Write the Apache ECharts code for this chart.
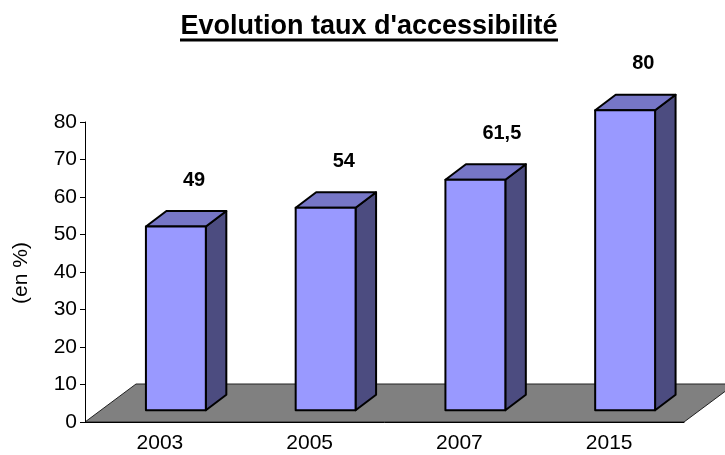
<!DOCTYPE html>
<html>
<head>
<meta charset="utf-8">
<script src="https://cdn.jsdelivr.net/npm/echarts@6/dist/echarts.min.js"></script>
<style>html,body{margin:0;padding:0;background:#fff}#c{width:725px;height:455px}</style>
</head>
<body>
<div id="c"></div>
<script>
const categories = ['2003', '2005', '2007', '2015'];
const values = [49, 54, 61.5, 80];
const yTicks = [0, 10, 20, 30, 40, 50, 60, 70, 80];
const titleText = "Evolution taux d'accessibilité";
const yName = '(en %)';

const FONT = 'Liberation Sans, Arial, sans-serif';
const FLOOR_DX = 51, FLOOR_DY = -38;
const BAR_SHIFT_X = 16, BAR_SHIFT_Y = -11.7;
const BAR_DX = 20.5, BAR_DY = -15.5;

const chart = echarts.init(document.getElementById('c'), null, {renderer: 'canvas'});

const option = {
  animation: false,
  backgroundColor: '#fff',
  grid: {left: 85, right: 41, top: 122, bottom: 33},
  graphic: [
    {type: 'text', x: 369, y: 40, style: {text: titleText, font: 'bold 27px ' + FONT, fill: '#000', textAlign: 'center', textVerticalAlign: 'bottom'}},
    {type: 'rect', shape: {x: 180, y: 38.5, width: 378, height: 3}, style: {fill: '#000'}},
    {type: 'text', x: 21, y: 273, rotation: Math.PI / 2, style: {text: yName, font: '21px ' + FONT, fill: '#000', textAlign: 'center', textVerticalAlign: 'middle'}}
  ],
  xAxis: {
    type: 'category', data: categories, z: 10,
    axisLine: {lineStyle: {color: '#000', width: 1}},
    axisTick: {length: 6, lineStyle: {color: '#000'}},
    axisLabel: {color: '#000', fontSize: 21, fontFamily: FONT, margin: 11}
  },
  yAxis: {
    type: 'value', min: yTicks[0], max: yTicks[yTicks.length - 1], interval: yTicks[1] - yTicks[0], z: 10,
    axisLine: {show: true, lineStyle: {color: '#000', width: 1}},
    axisTick: {show: true, length: 5, lineStyle: {color: '#000'}},
    axisLabel: {color: '#000', fontSize: 21, fontFamily: FONT, margin: 8},
    splitLine: {show: false}
  },
  series: [
    {
      type: 'custom', z: 1, silent: true,
      data: [[0, 0]],
      renderItem: function (params, api) {
        const cs = params.coordSys;
        const y0 = api.coord([0, 0])[1];
        const xl = cs.x, xr = cs.x + cs.width;
        return {
          type: 'polygon',
          shape: {points: [[xl, y0], [xr, y0], [xr + FLOOR_DX, y0 + FLOOR_DY], [xl + FLOOR_DX, y0 + FLOOR_DY]]},
          style: {fill: '#808080', stroke: '#222', lineWidth: 1}
        };
      }
    },
    {
      type: 'custom', z: 3, silent: true,
      data: categories.map((c, i) => [i, values[i]]),
      renderItem: function (params, api) {
        const v = api.value(1);
        const top = api.coord([api.value(0), v]);
        const base = api.coord([api.value(0), 0]);
        const band = api.size([1, 0])[0];
        const w = band * 0.4;
        const cx = top[0] + BAR_SHIFT_X;
        const L = cx - w / 2, R = cx + w / 2;
        const T = top[1] + BAR_SHIFT_Y, B = base[1] + BAR_SHIFT_Y;
        const stroke = {stroke: '#000', lineWidth: 2, lineJoin: 'round'};
        return {
          type: 'group',
          children: [
            {type: 'polygon', shape: {points: [[R, T], [R, B], [R + BAR_DX, B + BAR_DY], [R + BAR_DX, T + BAR_DY]]}, style: Object.assign({fill: '#4C4C80'}, stroke)},
            {type: 'polygon', shape: {points: [[L, T], [R, T], [R + BAR_DX, T + BAR_DY], [L + BAR_DX, T + BAR_DY]]}, style: Object.assign({fill: '#7676C6'}, stroke)},
            {type: 'rect', shape: {x: L, y: T, width: w, height: B - T}, style: Object.assign({fill: '#9999FF'}, stroke)},
            {type: 'text', x: cx + 7, y: T + BAR_DY - 31, style: {text: String(v).replace('.', ','), font: 'bold 20px ' + FONT, fill: '#000', textAlign: 'left', textVerticalAlign: 'middle'}}
          ]
        };
      }
    }
  ]
};
chart.setOption(option);
</script>
</body>
</html>
